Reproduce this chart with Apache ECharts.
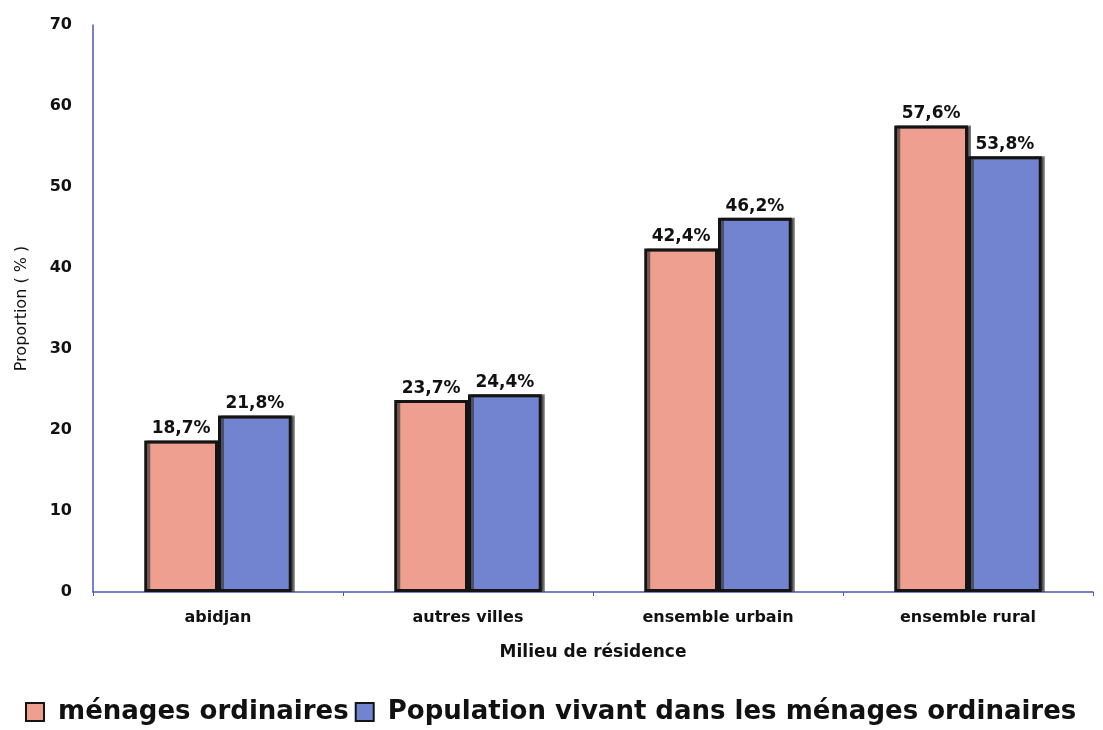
<!DOCTYPE html>
<html>
<head>
<meta charset="utf-8">
<script src="https://cdn.jsdelivr.net/npm/echarts@6/dist/echarts.min.js"></script>
<style>
  html, body { margin: 0; padding: 0; background: #fff; }
  #chart { width: 1103px; height: 730px; }
</style>
</head>
<body>
<div id="chart"></div>
<script>
const categories = ['abidjan', 'autres villes', 'ensemble urbain', 'ensemble rural'];
const menages = [18.7, 23.7, 42.4, 57.6];
const population = [21.8, 24.4, 46.2, 53.8];
const seriesNames = ['ménages ordinaires', 'Population vivant dans les ménages ordinaires'];

const chart = echarts.init(document.getElementById('chart'));

const fmt = (p) => p.value.toFixed(1).replace('.', ',') + '%';

const labelStyle = {
    show: true,
    position: 'top',
    formatter: fmt,
    fontFamily: 'DejaVu Sans',
    fontWeight: 'bold',
    fontSize: 17,
    color: '#111',
    distance: 3,
};

const option = {
    backgroundColor: '#fff',
    textStyle: { fontFamily: 'DejaVu Sans' },
    grid: { left: 93, right: 10, top: 25, bottom: 138 },
    legend: {
        data: seriesNames,
        icon: 'rect',
        left: 20,
        bottom: 0,
        itemWidth: 18,
        itemHeight: 18,
        itemGap: 6,
        formatter: (name) => ' ' + name,
        itemStyle: { borderColor: '#141414', borderWidth: 2 },
        textStyle: { fontSize: 26, fontWeight: 'bold', color: '#111', fontFamily: 'DejaVu Sans' },
    },
    xAxis: {
        type: 'category',
        data: categories,
        name: 'Milieu de résidence',
        nameLocation: 'middle',
        nameGap: 52,
        nameTextStyle: { fontSize: 17, fontWeight: 'bold', color: '#111' },
        axisLine: { lineStyle: { color: '#4a5aa8', width: 1.5 } },
        axisTick: { show: true, length: 4, lineStyle: { color: '#4a5aa8' } },
        axisLabel: { fontSize: 16, fontWeight: 'bold', color: '#111', margin: 18 },
    },
    yAxis: {
        type: 'value',
        min: 0,
        max: 70,
        interval: 10,
        name: 'Proportion ( % )',
        nameLocation: 'middle',
        nameGap: 63,
        nameRotate: 90,
        nameTextStyle: { fontSize: 16, color: '#111' },
        axisLine: { show: true, lineStyle: { color: '#4a5aa8', width: 1.5 } },
        axisTick: { show: false },
        splitLine: { show: false },
        axisLabel: { fontSize: 16, fontWeight: 'bold', color: '#111', margin: 21 },
    },
    series: [
        {
            name: seriesNames[0],
            type: 'bar',
            data: menages,
            barGap: '0%',
            barCategoryGap: '41%',
            itemStyle: {
                color: '#ef9f90',
                borderColor: '#141414',
                borderWidth: 3,
                shadowColor: 'rgba(60,60,60,0.7)',
                shadowOffsetX: 3,
                shadowOffsetY: 0,
            },
            label: labelStyle,
        },
        {
            name: seriesNames[1],
            type: 'bar',
            data: population,
            itemStyle: {
                color: '#7284d0',
                borderColor: '#141414',
                borderWidth: 3,
                shadowColor: 'rgba(60,60,60,0.7)',
                shadowOffsetX: 3,
                shadowOffsetY: 0,
            },
            label: labelStyle,
        },
    ],
};

chart.setOption(option);
</script>
</body>
</html>
